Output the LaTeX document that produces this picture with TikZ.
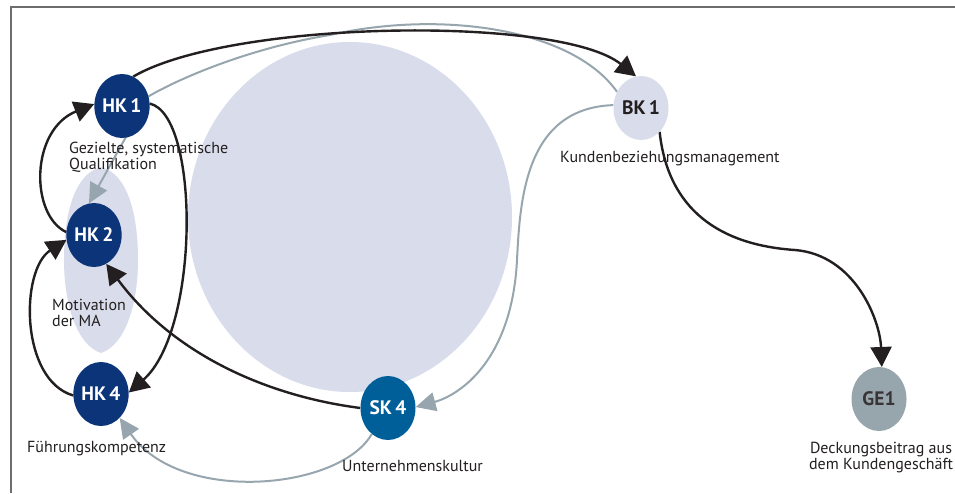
\documentclass[tikz,border=0pt]{standalone}
\usepackage{fontspec}
\setmainfont{PT Sans}
\usetikzlibrary{arrows.meta,shapes.geometric}
\definecolor{hkblue}{HTML}{0B3479}
\definecolor{skblue}{HTML}{005E98}
\definecolor{lav}{HTML}{D9DCEB}
\definecolor{grayline}{HTML}{97A6AE}
\definecolor{gefill}{HTML}{97A5AD}
\definecolor{txt}{HTML}{231F20}
\definecolor{framecol}{HTML}{6D6D6D}
\pgfdeclarelayer{shapes}
\pgfdeclarelayer{links}
\pgfsetlayers{shapes,links,main}
\tikzset{
  kpi/.style={ellipse, minimum width=55pt, minimum height=64pt, inner sep=0pt,
    font=\fontsize{19.5}{19.5}\selectfont\bfseries},
  hkstyle/.style={kpi, fill=hkblue, text=white},
  skstyle/.style={kpi, fill=skblue, text=white},
  bkstyle/.style={kpi, fill=lav, text=txt},
  gestyle/.style={kpi, fill=gefill, text=txt!90},
  lbl/.style={inner sep=0pt, text=txt, font=\fontsize{16}{16}\selectfont},
  blackarrow/.style={draw=txt, line width=2.4pt, -{Triangle[length=20pt,width=21pt]}},
  grayarrow/.style={draw=grayline, line width=2pt, -{Triangle[length=20pt,width=19pt]}},
  grayplain/.style={draw=grayline, line width=2pt},
}
\begin{document}
\begin{tikzpicture}[x=1pt,y=-1pt]
\useasboundingbox (0,0) rectangle (955,493);
\begin{pgfonlayer}{shapes}
\fill[white] (0,0) rectangle (955,493);
\draw[framecol, line width=1.6pt] (11,493) -- (11,7) -- (955,7);
\fill[lav] (350,217) ellipse [x radius=162, y radius=175];
\fill[lav] (101,167) .. controls (128,174) and (138,215) .. (138,260)
  .. controls (138,305) and (125,345) .. (101,353)
  .. controls (77,345) and (64,305) .. (64,260)
  .. controls (64,215) and (74,174) .. (101,167) -- cycle;
\end{pgfonlayer}
% nodes
\node[hkstyle] (hk1) at (122,106) {HK\,1};
\node[hkstyle] (hk2) at (94,235) {HK\,2};
\node[hkstyle] (hk4) at (101,394) {HK\,4};
\node[skstyle] (sk4) at (388,408) {SK\,4};
\node[bkstyle] (bk1) at (641,108) {BK\,1};
\node[gestyle] (ge1) at (879,399) {GE1};
% connectors
\begin{pgfonlayer}{links}
\path[grayplain] (bk1.146) .. controls (572,28) and (440,10) .. (330,35)
  .. controls (250,48) and (180,78) .. (hk1.20);
\path[grayarrow] (hk1.20) -- (hk2.99);
\path[grayarrow] (bk1.174) .. controls (525,108) and (520,200) .. (517,260)
  .. controls (512,360) and (460,395) .. (sk4.2);
\path[grayarrow] (sk4.238) .. controls (340,490) and (180,505) .. (hk4.308);
\path[blackarrow] (hk1.69) .. controls (230,20) and (560,15) .. (bk1.99);
\path[blackarrow] (hk1.5) .. controls (200,115) and (200,330) .. (hk4.3);
\path[blackarrow] (hk2.174) .. controls (30,215) and (30,130) .. (hk1.176);
\path[blackarrow] (hk4.183) .. controls (20,380) and (20,270) .. (hk2.190);
\path[blackarrow] (sk4.west) .. controls (260,395) and (170,350) .. (hk2.293);
\path[blackarrow] (bk1.308) .. controls (668,210) and (720,245) .. (795,250)
  .. controls (855,255) and (880,320) .. (ge1.85);
\end{pgfonlayer}
% labels
\node[lbl, anchor=north west, align=left] (lhk1) at (69,142) {Gezielte, systematische\\Qualifikation};
\node[lbl, anchor=north west, align=left] (lhk2) at (52,299) {Motivation\\der MA};
\node[lbl, anchor=base west] (lhk4) at (27,452) {Führungskompetenz};
\node[lbl, anchor=base west] (lsk4) at (342,471) {Unternehmenskultur};
\node[lbl, anchor=base west] (lbk1) at (560,162) {Kundenbeziehungsmanagement};
\node[lbl, anchor=north, align=center] (lge1) at (881,442) {Deckungsbeitrag aus\\dem Kundengeschäft};
\end{tikzpicture}
\end{document}
